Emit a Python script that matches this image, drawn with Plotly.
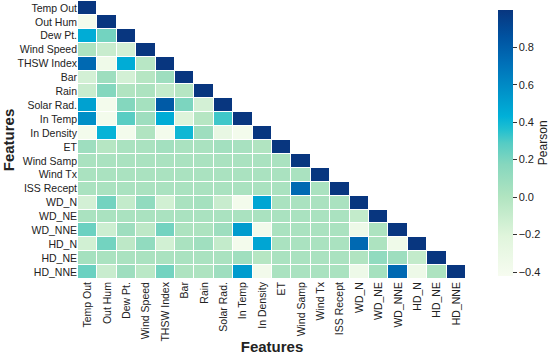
import plotly.graph_objects as go

features = ["Temp Out", "Out Hum", "Dew Pt.", "Wind Speed", "THSW Index", "Bar", "Rain",
            "Solar Rad.", "In Temp", "In Density", "ET", "Wind Samp", "Wind Tx", "ISS Recept",
            "WD_N", "WD_NE", "WD_NNE", "HD_N", "HD_NE", "HD_NNE"]

# lower-triangle Pearson values, row by row (including the diagonal)
r_temp_out = [1.0]
r_out_hum = [-0.38, 1.0]
r_dew_pt = [0.45, 0.22, 1.0]
r_wind_speed = [0.02, -0.10, -0.15, 1.0]
r_thsw = [0.75, -0.35, 0.45, -0.03, 1.0]
r_bar = [-0.15, 0.08, -0.15, -0.02, 0.08, 1.0]
r_rain = [-0.10, 0.18, 0.00, 0.02, -0.08, -0.02, 1.0]
r_solar = [0.50, -0.38, 0.18, 0.05, 0.82, 0.20, -0.15, 1.0]
r_in_temp = [0.58, -0.38, 0.28, 0.08, 0.45, -0.20, -0.02, 0.32, 1.0]
r_in_density = [-0.38, 0.42, -0.38, 0.00, -0.38, 0.40, 0.08, -0.28, -0.38, 1.0]
r_et = [0.08, -0.02, 0.03, 0.03, 0.06, 0.03, 0.03, 0.06, 0.04, 0.00, 1.0]
r_wind_samp = [0.03, 0.03, 0.03, 0.03, 0.03, 0.03, 0.03, 0.03, 0.03, 0.03, 0.03, 1.0]
r_wind_tx = [0.03, 0.03, 0.03, 0.03, 0.03, 0.03, 0.03, 0.03, 0.03, 0.03, 0.03, 0.03, 1.0]
r_iss = [0.03, 0.03, 0.03, 0.03, 0.03, 0.03, 0.03, 0.03, 0.03, 0.03, 0.03, 0.75, 0.03, 1.0]
r_wd_n = [-0.15, 0.22, -0.08, 0.13, -0.14, 0.03, 0.05, -0.10, -0.38, 0.48,
          0.03, 0.03, 0.03, 0.03, 1.0]
r_wd_ne = [0.03, 0.03, 0.03, 0.03, 0.03, 0.03, 0.03, 0.03, 0.03, 0.03,
           0.03, 0.03, 0.03, 0.03, -0.08, 1.0]
r_wd_nne = [0.24, -0.12, 0.08, -0.05, 0.22, 0.02, 0.02, 0.08, 0.52, -0.37,
            0.03, 0.03, 0.03, 0.03, -0.33, 0.02, 1.0]
r_hd_n = [-0.14, 0.22, -0.05, 0.13, -0.14, 0.03, 0.07, -0.08, -0.38, 0.48,
          0.03, 0.03, 0.03, 0.03, 0.75, 0.02, -0.35, 1.0]
r_hd_ne = [0.05, 0.03, 0.03, 0.03, 0.03, 0.03, 0.03, 0.03, 0.07, -0.02,
           0.03, 0.03, 0.03, 0.03, 0.00, 0.13, 0.08, -0.08, 1.0]
r_hd_nne = [0.24, -0.10, 0.08, -0.04, 0.22, 0.02, 0.02, 0.08, 0.52, -0.37,
            0.03, 0.03, 0.03, 0.03, -0.33, 0.05, 0.75, -0.33, 0.02, 1.0]

rows = [r_temp_out, r_out_hum, r_dew_pt, r_wind_speed, r_thsw, r_bar, r_rain, r_solar,
        r_in_temp, r_in_density, r_et, r_wind_samp, r_wind_tx, r_iss, r_wd_n, r_wd_ne,
        r_wd_nne, r_hd_n, r_hd_ne, r_hd_nne]

n = len(features)
z = [row + [None] * (n - len(row)) for row in rows]

colorscale = [
    [0.00, "#f7fcf0"],
    [0.15, "#e0f5dc"],
    [0.30, "#b0e4c0"],
    [0.42, "#86d7be"],
    [0.50, "#55ccc4"],
    [0.55, "#22c0d0"],
    [0.60, "#00b0d8"],
    [0.70, "#0090c8"],
    [0.80, "#0070b8"],
    [0.90, "#0052a0"],
    [1.00, "#08367f"],
]

font_family = "Liberation Sans, Arial, sans-serif"

fig = go.Figure(go.Heatmap(
    z=z, x=features, y=features,
    colorscale=colorscale, zmin=-0.42, zmax=1.0,
    xgap=1, ygap=1, hoverongaps=False,
    colorbar=dict(
        x=1.057, xanchor="left", y=0.49, yanchor="middle",
        len=1.03, lenmode="fraction", thickness=15,
        outlinewidth=0,
        tickvals=[-0.4, -0.2, 0.0, 0.2, 0.4, 0.6, 0.8],
        ticktext=["\u22120.4", "\u22120.2", "0.0", "0.2", "0.4", "0.6", "0.8"],
        ticks="outside", ticklen=4, tickcolor="#333",
        tickfont=dict(size=11, color="#222", family=font_family),
        title=dict(text="Pearson", side="right", font=dict(size=12, color="#222", family=font_family)),
    ),
))

fig.update_layout(
    width=550, height=355,
    margin=dict(l=78, r=84, t=1, b=76, autoexpand=False),
    plot_bgcolor="white", paper_bgcolor="white",
    font=dict(family=font_family, color="#222"),
)
fig.update_xaxes(
    title=dict(text="<b>Features</b>", font=dict(size=15, color="#222"), standoff=2),
    tickangle=-90, tickfont=dict(size=10.5, color="#222"), automargin=False,
    showgrid=False, zeroline=False, ticks="", ticklen=0,
)
fig.update_yaxes(
    title=dict(text="<b>Features</b>", font=dict(size=15, color="#222"), standoff=2),
    autorange="reversed", tickfont=dict(size=10.5, color="#222"), automargin=False,
    showgrid=False, zeroline=False, ticks="", ticklen=0,
)

fig.write_html("out.html", config={"displayModeBar": False},
               post_script="document.body.style.margin='0';")
